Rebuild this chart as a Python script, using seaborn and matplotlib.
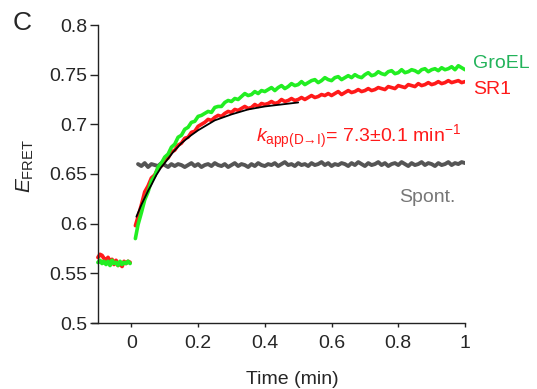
import matplotlib
matplotlib.use("Agg")
import matplotlib.pyplot as plt
import seaborn as sns

# pre-mixing baseline (time in min)
pre_time = [-0.100, -0.094, -0.088, -0.082, -0.076, -0.070, -0.064, -0.058, -0.052,
            -0.046, -0.040, -0.034, -0.028, -0.022, -0.016, -0.010, -0.004]
pre_sr1 = [0.566, 0.569, 0.568, 0.565, 0.563, 0.566, 0.562, 0.564, 0.559,
           0.563, 0.558, 0.561, 0.557, 0.562, 0.560, 0.562, 0.561]
pre_groel = [0.561, 0.563, 0.560, 0.562, 0.559, 0.562, 0.558, 0.563, 0.560,
             0.561, 0.558, 0.562, 0.559, 0.561, 0.560, 0.562, 0.560]

# kinetics after mixing
kin_time = [0.012] + [round(0.01 * i, 2) for i in range(2, 101)]
groel = [0.585, 0.599, 0.611, 0.624, 0.632, 0.643, 0.648, 0.657, 0.661, 0.667,
         0.670, 0.677, 0.680, 0.687, 0.689, 0.695, 0.697, 0.702, 0.703, 0.708,
         0.709, 0.711, 0.713, 0.712, 0.717, 0.718, 0.718, 0.722, 0.724, 0.723,
         0.726, 0.725, 0.728, 0.731, 0.729, 0.730, 0.733, 0.731, 0.734, 0.733,
         0.735, 0.737, 0.734, 0.737, 0.739, 0.736, 0.738, 0.741, 0.739, 0.740,
         0.743, 0.740, 0.742, 0.744, 0.745, 0.742, 0.744, 0.747, 0.745, 0.744,
         0.747, 0.748, 0.745, 0.747, 0.749, 0.747, 0.750, 0.748, 0.747, 0.750,
         0.752, 0.749, 0.750, 0.753, 0.751, 0.750, 0.753, 0.754, 0.751, 0.752,
         0.755, 0.752, 0.753, 0.755, 0.754, 0.752, 0.755, 0.756, 0.753, 0.755,
         0.756, 0.754, 0.757, 0.755, 0.756, 0.758, 0.755, 0.759, 0.757, 0.755]
sr1 = [0.598, 0.607, 0.619, 0.632, 0.638, 0.646, 0.649, 0.656, 0.658, 0.664,
       0.666, 0.672, 0.674, 0.679, 0.681, 0.686, 0.687, 0.692, 0.693, 0.698,
       0.700, 0.702, 0.705, 0.704, 0.707, 0.709, 0.708, 0.711, 0.713, 0.712,
       0.715, 0.714, 0.716, 0.718, 0.716, 0.717, 0.720, 0.718, 0.721, 0.720,
       0.721, 0.723, 0.721, 0.722, 0.725, 0.723, 0.724, 0.726, 0.724, 0.725,
       0.727, 0.725, 0.727, 0.729, 0.727, 0.728, 0.730, 0.729, 0.731, 0.729,
       0.731, 0.733, 0.730, 0.732, 0.734, 0.732, 0.733, 0.735, 0.733, 0.734,
       0.736, 0.734, 0.735, 0.737, 0.736, 0.735, 0.738, 0.737, 0.736, 0.739,
       0.738, 0.737, 0.740, 0.739, 0.738, 0.741, 0.739, 0.740, 0.742, 0.740,
       0.741, 0.743, 0.741, 0.742, 0.744, 0.742, 0.743, 0.744, 0.742, 0.743]
spont_time = kin_time[1:]
spont = [0.660, 0.658, 0.661, 0.657, 0.660, 0.659, 0.658, 0.661, 0.659, 0.657,
         0.660, 0.658, 0.660, 0.659, 0.657, 0.659, 0.661, 0.658, 0.660, 0.657,
         0.659, 0.660, 0.658, 0.661, 0.659, 0.658, 0.660, 0.657, 0.659, 0.661,
         0.658, 0.660, 0.659, 0.657, 0.660, 0.658, 0.661, 0.659, 0.658, 0.660,
         0.659, 0.661, 0.658, 0.660, 0.662, 0.659, 0.660, 0.658, 0.661, 0.659,
         0.660, 0.658, 0.661, 0.659, 0.660, 0.662, 0.659, 0.661, 0.658, 0.660,
         0.659, 0.661, 0.660, 0.658, 0.661, 0.659, 0.662, 0.660, 0.658, 0.661,
         0.659, 0.660, 0.662, 0.659, 0.661, 0.658, 0.660, 0.661, 0.659, 0.662,
         0.660, 0.658, 0.661, 0.659, 0.660, 0.662, 0.659, 0.661, 0.660, 0.658,
         0.661, 0.659, 0.660, 0.662, 0.659, 0.661, 0.660, 0.662, 0.661]

# single exponential fit to SR1 (black line)
fit_time = [0.015, 0.02, 0.03, 0.04, 0.05, 0.06, 0.075, 0.09, 0.1, 0.125, 0.15,
            0.175, 0.2, 0.25, 0.3, 0.35, 0.4, 0.45, 0.5]
fit_val = [0.607, 0.611, 0.619, 0.626, 0.633, 0.639, 0.649, 0.657, 0.661, 0.672,
           0.681, 0.688, 0.694, 0.704, 0.710, 0.715, 0.718, 0.720, 0.722]

x_ticks = [0, 0.2, 0.4, 0.6, 0.8, 1]
x_ticklabels = ["0", "0.2", "0.4", "0.6", "0.8", "1"]
y_ticks = [0.5, 0.55, 0.6, 0.65, 0.7, 0.75, 0.8]
y_ticklabels = ["0.5", "0.55", "0.6", "0.65", "0.7", "0.75", "0.8"]

GREEN = "#22ee22"
RED = "#ff1a1a"
GRAY = "#555555"
W, H = 537, 389

sns.set_style("ticks")
plt.rcParams["font.family"] = ["Liberation Sans", "DejaVu Sans"]
plt.rcParams["mathtext.fontset"] = "custom"
plt.rcParams["mathtext.rm"] = "Liberation Sans"
plt.rcParams["mathtext.it"] = "Liberation Sans:italic"

fig = plt.figure(figsize=(W / 100, H / 100), dpi=100)
ax = fig.add_axes([92 / W, 66 / H, 373 / W, 298 / H])

sns.lineplot(x=spont_time, y=spont, ax=ax, color=GRAY, linewidth=2.8)
sns.lineplot(x=pre_time, y=pre_sr1, ax=ax, color=RED, linewidth=2.8)
sns.lineplot(x=kin_time, y=sr1, ax=ax, color=RED, linewidth=2.6)
sns.lineplot(x=pre_time, y=pre_groel, ax=ax, color=GREEN, linewidth=2.8)
sns.lineplot(x=kin_time, y=groel, ax=ax, color=GREEN, linewidth=2.6)
sns.lineplot(x=fit_time, y=fit_val, ax=ax, color="black", linewidth=1.3)

ax.set_xlim(-0.118, 1.0)
ax.set_ylim(0.5, 0.8)
ax.spines["left"].set_position(("data", -0.1))
sns.despine(ax=ax)
for s in ["left", "bottom"]:
    ax.spines[s].set_linewidth(1.0)
    ax.spines[s].set_color("#222222")

ax.set_xticks(x_ticks)
ax.set_xticklabels(x_ticklabels)
ax.set_yticks(y_ticks)
ax.set_yticklabels(y_ticklabels)
ax.tick_params(axis="y", direction="out", length=5.5, width=1, pad=2,
               labelsize=14, color="#222222")
ax.tick_params(axis="x", direction="out", length=3, width=1, pad=6,
               labelsize=14, color="#222222")

ax.set_xlabel("Time (min)", fontsize=14)
ax.xaxis.set_label_coords(0.536, -0.16)
ax.set_ylabel(r"$E_{\mathrm{FRET}}$", fontsize=15)
ax.yaxis.set_label_coords(-0.15, 0.525)


def label(x, y, s, **kw):
    # place text at pixel position measured from the top-left corner
    fig.text(x / W, 1 - y / H, s, va="center", ha="left", **kw)


label(13, 23, "C", fontsize=19)
label(473, 63, "GroEL", fontsize=14, color="#22b35a")
label(473, 89, "SR1", fontsize=14, color=RED)
label(399, 197, "Spont.", fontsize=14, color="#777777")
label(256, 137, r"$k_{\mathrm{app(D→I)}}$= 7.3$\pm$0.1 min$^{-1}$",
      fontsize=14, color=RED)

fig.savefig("out.png", dpi=100)
